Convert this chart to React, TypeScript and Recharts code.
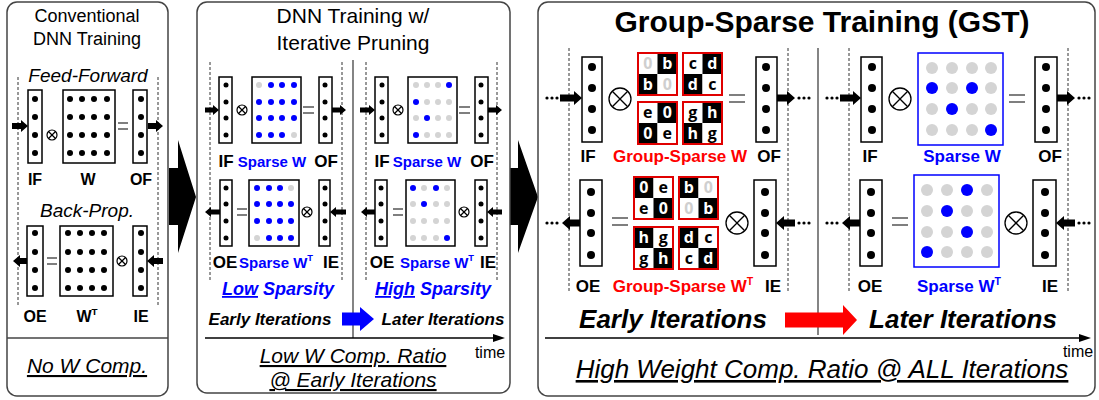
import React from 'react';
import { ScatterChart, Scatter, XAxis, YAxis, Customized } from 'recharts';

// ---- data: which weights survive, per matrix (# = kept, . = pruned) ----
const VEC = [1, 1, 1, 1];
const DENSE_W = ['####', '####', '####', '####'];
const DENSE_WT = ['####', '####', '####', '####'];
const PRUNE_EARLY_W = ['.###', '####', '####', '###.'];
const PRUNE_EARLY_WT = ['###.', '####', '####', '.###'];
const PRUNE_LATE_W = ['...#', '#...', '.#..', '#...'];
const PRUNE_LATE_WT = ['#.#.', '.#..', '....', '...#'];
const GST_LATE_W = ['....', '#.#.', '.#..', '...#'];
const GST_LATE_WT = ['..#.', '.#..', '..#.', '#...'];

// group-sparse 2x2 blocks (row-major cells), and which cells are dark
const GS_W = [['0', 'b', 'b', '0'], ['c', 'd', 'd', 'c'], ['e', '0', '0', 'e'], ['g', 'h', 'h', 'g']];
const GS_WT = [['0', 'e', 'e', '0'], ['b', '0', '0', 'b'], ['h', 'g', 'g', 'h'], ['d', 'c', 'c', 'd']];
const GS_W_DARK = [0, 1, 1, 0];
const GS_WT_DARK = [1, 0, 0, 1];

const W = 1099;
const H = 400;
const FONT = '"Liberation Sans", Arial, sans-serif';
const BLUE = '#0000ff';
const GRAY = '#d4d4d4';
const RED = '#ff0000';

type Dot = { x: number; y: number; r: number };
const black: Dot[] = [];
const blue: Dot[] = [];
const gray: Dot[] = [];

function addVec(x: number, ys: number[], r: number) {
  VEC.forEach((v, i) => v && black.push({ x, y: ys[i], r }));
}
function addMat(p: string[], xs: number[], ys: number[], r: number, on: Dot[], off: Dot[]) {
  p.forEach((row, i) =>
    row.split('').forEach((c, j) => (c === '#' ? on : off).push({ x: xs[j], y: ys[i], r }))
  );
}

// left panel
addVec(35, [99, 117, 135, 153], 3);
addVec(141, [99, 117, 135, 153], 3);
addMat(DENSE_W, [70, 82, 94, 107], [99, 117, 135, 153], 3, black, gray);
addVec(35, [233, 252, 270, 288], 3);
addVec(141, [233, 252, 270, 288], 3);
addMat(DENSE_WT, [68, 80, 92, 104], [233, 252, 270, 288], 3, black, gray);

// middle panel
const MU = [85, 102, 118, 135];
const ML = [188, 204, 221, 238];
[226, 325, 382, 481].forEach((x) => addVec(x, MU, 2.5));
[226, 325, 381, 481].forEach((x) => addVec(x, ML, 2.5));
addMat(PRUNE_EARLY_W, [259, 271, 282, 294], MU, 3, blue, gray);
addMat(PRUNE_LATE_W, [416, 427, 438, 449], MU, 3, blue, gray);
addMat(PRUNE_EARLY_WT, [257, 269, 280, 291], ML, 3, blue, gray);
addMat(PRUNE_LATE_WT, [413, 424, 436, 447], ML, 3, blue, gray);

// right panel
const RU = [67, 88, 109, 130];
const RL = [192, 213, 233, 255];
[592, 766, 872, 1046].forEach((x) => addVec(x, RU, 4));
[591, 765, 871, 1045].forEach((x) => addVec(x, RL, 4));
addMat(GST_LATE_W, [932, 952, 972, 991], [68, 88, 109, 130], 6, blue, gray);
addMat(GST_LATE_WT, [927, 947, 967, 987], [190, 211, 232, 252], 6, blue, gray);

// group-sparse cells and block outlines
const BW = 39;
const BH = 42;
const UPPER_BLOCKS = [[638, 53], [683, 53], [638, 102], [683, 102]];
const LOWER_BLOCKS = [[634, 177], [679, 177], [634, 227], [679, 227]];
type Cell = { x: number; y: number; ch: string; dark: number };
const cells: Cell[] = [];
const blocks: { x: number; y: number }[] = [];
function addBlocks(origins: number[][], letters: string[][], dark: number[]) {
  origins.forEach(([ox, oy], b) => {
    blocks.push({ x: ox + BW / 2, y: oy + BH / 2 });
    letters[b].forEach((ch, k) => {
      const i = Math.floor(k / 2);
      const j = k % 2;
      cells.push({ x: ox + (j + 0.5) * (BW / 2), y: oy + (i + 0.5) * (BH / 2), ch, dark: dark[k] });
    });
  });
}
addBlocks(UPPER_BLOCKS, GS_W, GS_W_DARK);
addBlocks(LOWER_BLOCKS, GS_WT, GS_WT_DARK);

const Txt = ({ x, y, size, bold, italic, color = '#000', anchor = 'middle', underline, children }: any) => (
  <text
    x={x}
    y={y}
    fontFamily={FONT}
    fontSize={size}
    fontWeight={bold ? 700 : 400}
    fontStyle={italic ? 'italic' : 'normal'}
    fill={color}
    textAnchor={anchor}
    style={underline ? { textDecoration: 'underline' } : undefined}
  >
    {children}
  </text>
);

const Arrow = ({ x1, x2, y, t = 6, hl = 7, hh = 6, color = '#000' }: any) => {
  const d = x2 > x1 ? 1 : -1;
  const b = x2 - d * hl;
  const pts = [
    [x1, y - t / 2], [b, y - t / 2], [b, y - hh], [x2, y], [b, y + hh], [b, y + t / 2], [x1, y + t / 2],
  ];
  return <polygon points={pts.map((p) => p.join(',')).join(' ')} fill={color} />;
};

const Times = ({ x, y, r }: any) => {
  const k = r * 0.7;
  return (
    <g stroke="#000" strokeWidth={r > 8 ? 1.3 : 1.2} fill="none">
      <circle cx={x} cy={y} r={r} />
      <line x1={x - k} y1={y - k} x2={x + k} y2={y + k} />
      <line x1={x - k} y1={y + k} x2={x + k} y2={y - k} />
    </g>
  );
};

const Eq = ({ x1, x2, y1, y2 }: any) => (
  <g stroke="#555" strokeWidth={1.5}>
    <line x1={x1} y1={y1} x2={x2} y2={y1} />
    <line x1={x1} y1={y2} x2={x2} y2={y2} />
  </g>
);

const Box = ({ x1, x2, y1, y2, color = '#000', sw = 1.5 }: any) => (
  <rect x={x1} y={y1} width={x2 - x1} height={y2 - y1} fill="none" stroke={color} strokeWidth={sw} />
);

const Dash = ({ x, y1, y2 }: any) => (
  <line x1={x} y1={y1} x2={x} y2={y2} stroke="#333" strokeWidth={1} strokeDasharray="3 2" />
);

const Dots3 = ({ x, y }: any) => (
  <g fill="#000">
    {[0, 5, 10].map((d) => (
      <circle key={d} cx={x + d} cy={y} r={1.6} />
    ))}
  </g>
);

const WT = ({ x, y, size, color = '#000', prefix = '' }: any) => (
  <text x={x} y={y} fontFamily={FONT} fontSize={size} fontWeight={700} fill={color} textAnchor="middle">
    {prefix}W<tspan dy={-7} fontSize={size * 0.62}>T</tspan>
  </text>
);

const TimeAxis = ({ x1, x2, y }: any) => (
  <g>
    <line x1={x1} y1={y} x2={x2 - 10} y2={y} stroke="#000" strokeWidth={1.5} />
    <polygon points={`${x2 - 12},${y - 4} ${x2},${y} ${x2 - 12},${y + 4}`} fill="#000" />
  </g>
);

const Overlay = () => (
  <g>
    {/* chevrons between panels */}
    <polygon points="169,168 178,168 178,140 196,197 178,253 178,225 169,225" fill="#000" />
    <polygon points="510,168 518,168 518,140 538,197 518,253 518,225 510,225" fill="#000" />

    {/* panels */}
    <rect x={7} y={2} width={161} height={394} rx={10} fill="none" stroke="#444" strokeWidth={1.5} />
    <rect x={197} y={2} width={313} height={391} rx={10} fill="none" stroke="#444" strokeWidth={1.5} />
    <rect x={538} y={2} width={557} height={394} rx={10} fill="none" stroke="#444" strokeWidth={1.5} />

    {/* ---- left panel ---- */}
    <Txt x={87} y={22} size={18}>Conventional</Txt>
    <Txt x={87} y={45} size={18}>DNN Training</Txt>
    <Txt x={88} y={82} size={19} italic>Feed-Forward</Txt>
    <Dash x={18} y1={77} y2={305} />
    <Dash x={158} y1={77} y2={305} />
    <Box x1={28} x2={42} y1={90} y2={163} />
    <Box x1={63} x2={115} y1={90} y2={163} />
    <Box x1={133} x2={147} y1={90} y2={163} />
    <Arrow x1={12} x2={28} y={126} />
    <Arrow x1={148} x2={163} y={126} />
    <Times x={52} y={135} r={5} />
    <Eq x1={118} x2={128} y1={123} y2={129} />
    <Txt x={35} y={185} size={16} bold>IF</Txt>
    <Txt x={88} y={185} size={16} bold>W</Txt>
    <Txt x={141} y={185} size={16} bold>OF</Txt>
    <Txt x={87} y={217} size={19} italic>Back-Prop.</Txt>
    <Box x1={27} x2={43} y1={226} y2={296} />
    <Box x1={60} x2={113} y1={226} y2={296} />
    <Box x1={133} x2={147} y1={226} y2={296} />
    <Arrow x1={27} x2={13} y={261} />
    <Arrow x1={163} x2={147} y={261} />
    <Eq x1={47} x2={57} y1={258} y2={264} />
    <Times x={122} y={261} r={5} />
    <Txt x={35} y={322} size={16} bold>OE</Txt>
    <WT x={87} y={322} size={16} />
    <Txt x={141} y={322} size={16} bold>IE</Txt>
    <line x1={7} y1={338} x2={168} y2={338} stroke="#444" strokeWidth={1.5} />
    <Txt x={87} y={373} size={21} italic underline>No W Comp.</Txt>

    {/* ---- middle panel ---- */}
    <Txt x={353} y={23} size={21}>DNN Training w/</Txt>
    <Txt x={353} y={50} size={21}>Iterative Pruning</Txt>
    <line x1={353} y1={60} x2={353} y2={338} stroke="#333" strokeWidth={1.2} />
    {[210, 342, 366, 497].map((x) => (
      <Dash key={x} x={x} y1={62} y2={280} />
    ))}
    {[[219, 232], [252, 301], [319, 332], [375, 388], [408, 457], [475, 488]].map(([a, b]) => (
      <Box key={a} x1={a} x2={b} y1={77} y2={143} />
    ))}
    {[[220, 232], [249, 299], [319, 330], [375, 387], [406, 455], [475, 487]].map(([a, b]) => (
      <Box key={a} x1={a} x2={b} y1={180} y2={246} />
    ))}
    <Arrow x1={205} x2={219} y={110} t={5} hl={6} hh={5} />
    <Arrow x1={332} x2={346} y={110} t={5} hl={6} hh={5} />
    <Arrow x1={360} x2={375} y={110} t={5} hl={6} hh={5} />
    <Arrow x1={488} x2={502} y={110} t={5} hl={6} hh={5} />
    <Arrow x1={220} x2={205} y={212} t={5} hl={6} hh={5} />
    <Arrow x1={346} x2={330} y={212} t={5} hl={6} hh={5} />
    <Arrow x1={375} x2={361} y={212} t={5} hl={6} hh={5} />
    <Arrow x1={502} x2={487} y={212} t={5} hl={6} hh={5} />
    <Times x={242} y={110} r={5} />
    <Times x={398} y={110} r={5} />
    <Times x={307} y={212} r={5} />
    <Times x={464} y={212} r={5} />
    <Eq x1={303} x2={314} y1={107} y2={113} />
    <Eq x1={459} x2={470} y1={107} y2={113} />
    <Eq x1={237} x2={247} y1={209} y2={215} />
    <Eq x1={393} x2={403} y1={209} y2={215} />
    <Txt x={226} y={167} size={17} bold>IF</Txt>
    <Txt x={272} y={167} size={15} bold color={BLUE}>Sparse W</Txt>
    <Txt x={326} y={167} size={17} bold>OF</Txt>
    <Txt x={382} y={167} size={17} bold>IF</Txt>
    <Txt x={427} y={167} size={15} bold color={BLUE}>Sparse W</Txt>
    <Txt x={482} y={167} size={17} bold>OF</Txt>
    <Txt x={225} y={268} size={17} bold>OE</Txt>
    <WT x={276} y={268} size={15} color={BLUE} prefix="Sparse " />
    <Txt x={331} y={268} size={17} bold>IE</Txt>
    <Txt x={382} y={268} size={17} bold>OE</Txt>
    <WT x={437} y={268} size={15} color={BLUE} prefix="Sparse " />
    <Txt x={488} y={268} size={17} bold>IE</Txt>
    <text x={278} y={295} fontFamily={FONT} fontSize={18} fontWeight={700} fontStyle="italic" fill={BLUE} textAnchor="middle">
      <tspan style={{ textDecoration: 'underline' }}>Low</tspan> Sparsity
    </text>
    <text x={433} y={295} fontFamily={FONT} fontSize={18} fontWeight={700} fontStyle="italic" fill={BLUE} textAnchor="middle">
      <tspan style={{ textDecoration: 'underline' }}>High</tspan> Sparsity
    </text>
    <Txt x={270} y={325} size={17} bold italic>Early Iterations</Txt>
    <Txt x={443} y={325} size={17} bold italic>Later Iterations</Txt>
    <Arrow x1={342} x2={374} y={319} t={13} hl={14} hh={12} color={BLUE} />
    <TimeAxis x1={205} x2={505} y={338} />
    <Txt x={490} y={358} size={16}>time</Txt>
    <Txt x={353} y={363} size={21} italic underline>Low W Comp. Ratio</Txt>
    <Txt x={353} y={387} size={21} italic underline>@ Early Iterations</Txt>

    {/* ---- right panel ---- */}
    <Txt x={822} y={32} size={30} bold>Group-Sparse Training (GST)</Txt>
    <line x1={818} y1={48} x2={818} y2={335} stroke="#333" strokeWidth={1.2} />
    {[569, 788, 849, 1068].map((x) => (
      <Dash key={x} x={x} y1={48} y2={293} />
    ))}
    {[[582, 602], [756, 777], [861, 882], [1035, 1057]].map(([a, b]) => (
      <Box key={a} x1={a} x2={b} y1={57} y2={142} />
    ))}
    {[[580, 602], [754, 776], [860, 882], [1033, 1056]].map(([a, b]) => (
      <Box key={a} x1={a} x2={b} y1={180} y2={266} />
    ))}
    <Box x1={918} x2={1003} y1={53} y2={145} color={BLUE} />
    <Box x1={914} x2={999} y1={175} y2={267} color={BLUE} />
    <Dots3 x={547} y={98} />
    <Arrow x1={560} x2={582} y={98} t={7} hl={8} hh={7} />
    <Arrow x1={777} x2={795} y={98} t={7} hl={8} hh={7} />
    <Dots3 x={799} y={98} />
    <Dots3 x={827} y={98} />
    <Arrow x1={840} x2={861} y={98} t={7} hl={8} hh={7} />
    <Arrow x1={1057} x2={1075} y={98} t={7} hl={8} hh={7} />
    <Dots3 x={1079} y={98} />
    <Dots3 x={547} y={223} />
    <Arrow x1={580} x2={562} y={223} t={7} hl={8} hh={7} />
    <Arrow x1={795} x2={776} y={223} t={7} hl={8} hh={7} />
    <Dots3 x={799} y={223} />
    <Dots3 x={827} y={223} />
    <Arrow x1={860} x2={842} y={223} t={7} hl={8} hh={7} />
    <Arrow x1={1075} x2={1056} y={223} t={7} hl={8} hh={7} />
    <Dots3 x={1079} y={223} />
    <Times x={620} y={99} r={11} />
    <Times x={900} y={99} r={11} />
    <Times x={737} y={223} r={11} />
    <Times x={1016} y={223} r={11} />
    <Eq x1={729} x2={745} y1={95} y2={102} />
    <Eq x1={1009} x2={1025} y1={95} y2={102} />
    <Eq x1={612} x2={628} y1={218} y2={225} />
    <Eq x1={892} x2={908} y1={218} y2={225} />
    <Txt x={588} y={162} size={17} bold>IF</Txt>
    <Txt x={680} y={162} size={17} bold color={RED}>Group-Sparse W</Txt>
    <Txt x={769} y={162} size={17} bold>OF</Txt>
    <Txt x={870} y={162} size={17} bold>IF</Txt>
    <Txt x={962} y={162} size={17} bold color={BLUE}>Sparse W</Txt>
    <Txt x={1050} y={162} size={17} bold>OF</Txt>
    <Txt x={588} y={292} size={17} bold>OE</Txt>
    <WT x={683} y={292} size={17} color={RED} prefix="Group-Sparse " />
    <Txt x={773} y={292} size={17} bold>IE</Txt>
    <Txt x={870} y={292} size={17} bold>OE</Txt>
    <WT x={959} y={292} size={17} color={BLUE} prefix="Sparse " />
    <Txt x={1050} y={292} size={17} bold>IE</Txt>
    <Txt x={673} y={328} size={26} bold italic>Early Iterations</Txt>
    <Txt x={963} y={328} size={26} bold italic>Later Iterations</Txt>
    <Arrow x1={785} x2={857} y={320} t={15} hl={14} hh={15} color={RED} />
    <TimeAxis x1={545} x2={1091} y={338} />
    <Txt x={1078} y={357} size={16}>time</Txt>
    <Txt x={822} y={378} size={26} italic underline>High Weight Comp. Ratio  @ ALL Iterations</Txt>
  </g>
);

const dotShape = (color: string) => (p: any) => <circle cx={p.cx} cy={p.cy} r={p.payload.r} fill={color} />;

const cellShape = (p: any) => {
  const c = p.payload as Cell;
  const w = BW / 2;
  const h = BH / 2;
  const fg = c.dark ? '#fff' : c.ch === '0' ? '#cfcfcf' : '#000';
  return (
    <g>
      <rect x={p.cx - w / 2} y={p.cy - h / 2} width={w} height={h} fill={c.dark ? '#000' : '#fff'} />
      <text
        x={p.cx}
        y={p.cy + 5.5}
        fontFamily='"Open Sans", "Noto Sans", sans-serif'
        fontSize={16}
        fontWeight={700}
        fill={fg}
        textAnchor="middle"
      >
        {c.ch}
      </text>
    </g>
  );
};

const blockShape = (p: any) => (
  <rect x={p.cx - BW / 2} y={p.cy - BH / 2} width={BW} height={BH} fill="none" stroke="#e00000" strokeWidth={2} />
);

export default function App() {
  return (
    <div style={{ position: 'absolute', left: 0, top: 0, width: W, height: H, background: '#fff' }}>
      <ScatterChart width={W} height={H} margin={{ top: 0, right: 0, bottom: 0, left: 0 }}>
        <XAxis type="number" dataKey="x" domain={[0, W]} hide allowDataOverflow />
        <YAxis type="number" dataKey="y" domain={[0, H]} reversed hide allowDataOverflow />
        <Customized component={Overlay} />
        <Scatter data={black} shape={dotShape('#000')} isAnimationActive={false} />
        <Scatter data={blue} shape={dotShape(BLUE)} isAnimationActive={false} />
        <Scatter data={gray} shape={dotShape(GRAY)} isAnimationActive={false} />
        <Scatter data={cells} shape={cellShape} isAnimationActive={false} />
        <Scatter data={blocks} shape={blockShape} isAnimationActive={false} />
      </ScatterChart>
    </div>
  );
}
